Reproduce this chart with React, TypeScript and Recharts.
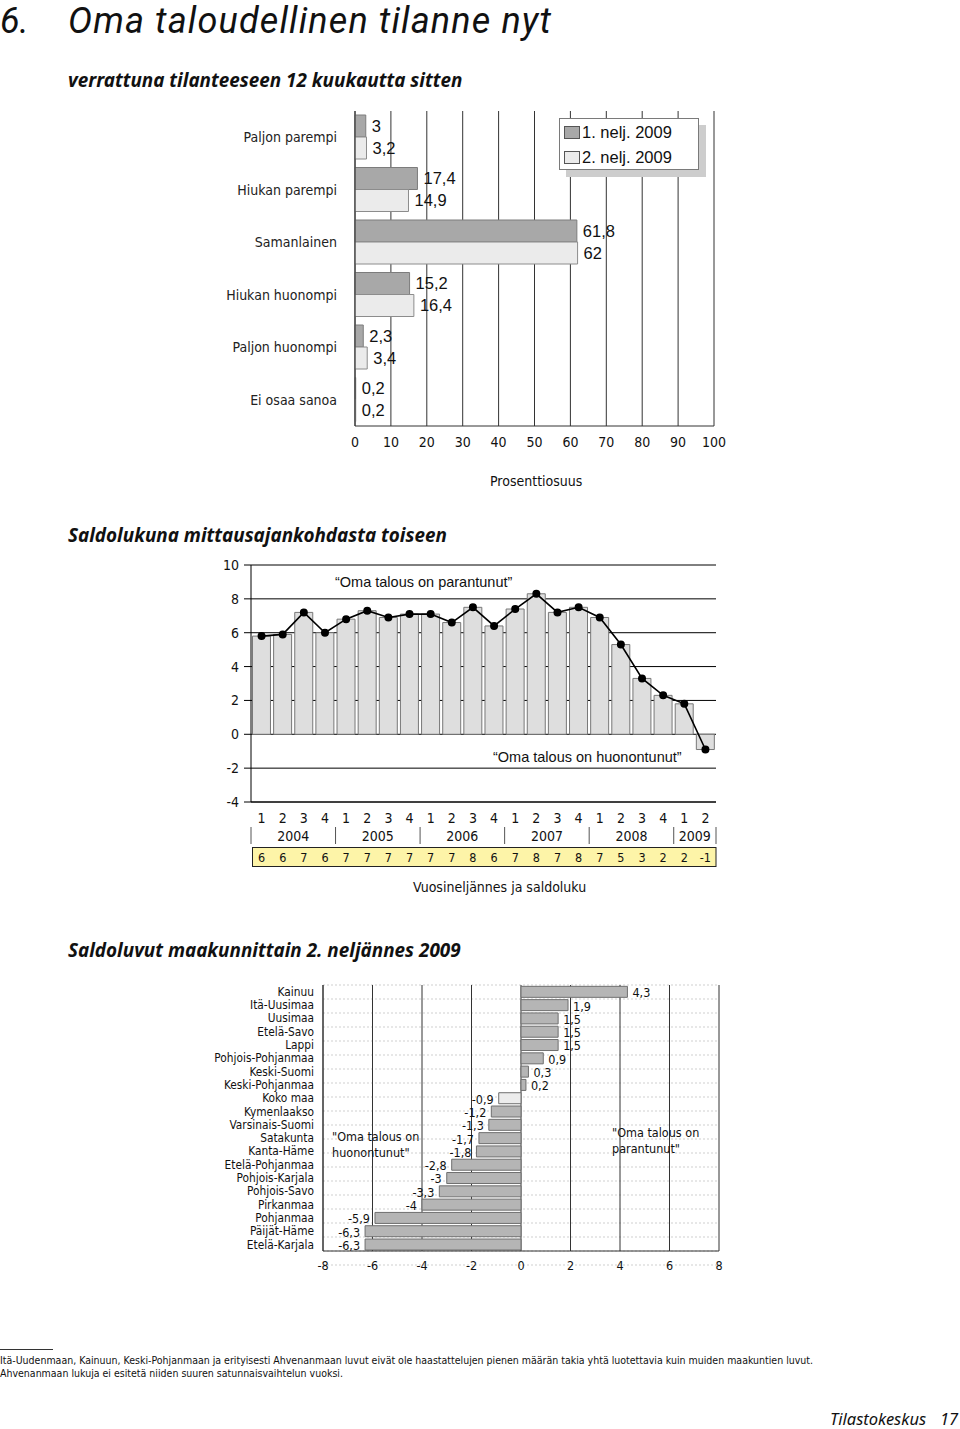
import React from 'react';
import {
  BarChart,
  Bar,
  ComposedChart,
  Line,
  XAxis,
  YAxis,
  CartesianGrid,
  LabelList,
  Legend,
  Cell,
} from 'recharts';

const COND = "'Liberation Sans Narrow', 'DejaVu Sans Condensed', 'Roboto Condensed', 'Liberation Sans', sans-serif";
const SANS = "'Liberation Sans', Arial, sans-serif";
const HEAD = "'Noto Sans', 'Open Sans', 'DejaVu Sans', sans-serif";
const TITLE = "Roboto, 'Noto Sans', sans-serif";

// ---------- Chart 1: oma taloudellinen tilanne ----------
const answerCategories = [
  'Paljon parempi',
  'Hiukan parempi',
  'Samanlainen',
  'Hiukan huonompi',
  'Paljon huonompi',
  'Ei osaa sanoa',
];
const firstQuarterValues = [3, 17.4, 61.8, 15.2, 2.3, 0.2];
const secondQuarterValues = [3.2, 14.9, 62, 16.4, 3.4, 0.2];
const seriesNames = ['1. nelj. 2009', '2. nelj. 2009'];
const percentTicks = [0, 10, 20, 30, 40, 50, 60, 70, 80, 90, 100];

// ---------- Chart 2: saldoluvut ----------
const quarterLabels = ['1', '2', '3', '4', '1', '2', '3', '4', '1', '2', '3', '4', '1', '2', '3', '4', '1', '2', '3', '4', '1', '2'];
const quarterYears = [
  '2004', '2004', '2004', '2004',
  '2005', '2005', '2005', '2005',
  '2006', '2006', '2006', '2006',
  '2007', '2007', '2007', '2007',
  '2008', '2008', '2008', '2008',
  '2009', '2009',
];
const saldoValues = [5.8, 5.9, 7.2, 6.0, 6.8, 7.3, 6.9, 7.1, 7.1, 6.6, 7.5, 6.4, 7.4, 8.3, 7.2, 7.5, 6.9, 5.3, 3.3, 2.3, 1.8, -0.9];
const saldoLabels = ['6', '6', '7', '6', '7', '7', '7', '7', '7', '7', '8', '6', '7', '8', '7', '8', '7', '5', '3', '2', '2', '-1'];
const saldoMajorTicks = [-4, -2, 0, 2, 4, 6, 8, 10];
const saldoMinorTicks = [
  -4, -3.6, -3.2, -2.8, -2.4, -2, -1.6, -1.2, -0.8, -0.4, 0, 0.4, 0.8, 1.2, 1.6, 2, 2.4, 2.8,
  3.2, 3.6, 4, 4.4, 4.8, 5.2, 5.6, 6, 6.4, 6.8, 7.2, 7.6, 8, 8.4, 8.8, 9.2, 9.6, 10,
];

// ---------- Chart 3: maakunnat ----------
const regionNames = [
  'Kainuu',
  'Itä-Uusimaa',
  'Uusimaa',
  'Etelä-Savo',
  'Lappi',
  'Pohjois-Pohjanmaa',
  'Keski-Suomi',
  'Keski-Pohjanmaa',
  'Koko maa',
  'Kymenlaakso',
  'Varsinais-Suomi',
  'Satakunta',
  'Kanta-Häme',
  'Etelä-Pohjanmaa',
  'Pohjois-Karjala',
  'Pohjois-Savo',
  'Pirkanmaa',
  'Pohjanmaa',
  'Päijät-Häme',
  'Etelä-Karjala',
];
const regionValues = [4.3, 1.9, 1.5, 1.5, 1.5, 0.9, 0.3, 0.2, -0.9, -1.2, -1.3, -1.7, -1.8, -2.8, -3, -3.3, -4, -5.9, -6.3, -6.3];
const regionTicks = [-8, -6, -4, -2, 0, 2, 4, 6, 8];
const regionRowBoundaries = [0, 1, 2, 3, 4, 5, 6, 7, 8, 9, 10, 11, 12, 13, 14, 15, 16, 17, 18, 19, 20];

// ---------- tables ----------
const answerData = answerCategories.map((name, i) => ({
  name,
  q1: firstQuarterValues[i],
  q2: secondQuarterValues[i],
}));
const saldoData = quarterLabels.map((q, i) => ({
  key: `${quarterYears[i]}-${q}`,
  v: saldoValues[i],
}));
const regionData = regionNames.map((name, i) => ({ name, v: regionValues[i] }));

const fmt = (v: any) => String(v).replace('.', ',');

// ---------- helpers ----------
const Txt = ({ x, cy, size, children, style }: any) => {
  const lh = Math.round(size * 1.15);
  return (
    <div
      style={{
        position: 'absolute',
        left: x,
        top: cy - lh / 2,
        lineHeight: `${lh}px`,
        fontSize: size,
        whiteSpace: 'nowrap',
        color: '#111',
        ...style,
      }}
    >
      {children}
    </div>
  );
};

const AnswerLegend = (props: any) => {
  const items = props.payload || [];
  return (
    <div style={{ position: 'relative', width: 140, height: 52 }}>
      <div style={{ position: 'absolute', left: 7, top: 7, width: 140, height: 52, background: '#cdcdcd' }} />
      <div
        style={{
          position: 'absolute',
          left: 0,
          top: 0,
          width: 138,
          height: 50,
          background: '#fff',
          border: '1px solid #7a7a7a',
        }}
      >
        {items.map((it: any, i: number) => (
          <div
            key={i}
            style={{
              position: 'absolute',
              left: 4,
              top: 3 + i * 25,
              height: 20,
              display: 'flex',
              alignItems: 'center',
              fontFamily: SANS,
              fontSize: 16.5,
              color: '#111',
              whiteSpace: 'nowrap',
            }}
          >
            <span
              style={{
                display: 'inline-block',
                width: 14,
                height: 11,
                background: it.color,
                border: '1px solid #555',
                marginRight: 2,
              }}
            />
            {it.value}
          </div>
        ))}
      </div>
    </div>
  );
};

const SaldoTick = (props: any) => {
  const { x, y, index, payload } = props;
  const half = payload && typeof payload.offset === 'number' && payload.offset > 0 ? payload.offset : 465 / 22 / 2;
  const n = quarterLabels.length;
  const yr = quarterYears[index];
  const first = quarterYears.indexOf(yr);
  const last = quarterYears.lastIndexOf(yr);
  return (
    <g>
      {index === 0 && (
        <rect x={x - half + 1.5} y={y + 45.5} width={n * 2 * half - 1.5} height={19} fill="#fdf4a8" stroke="#222" strokeWidth={1} />
      )}
      <text x={x} y={y + 21} textAnchor="middle" fontFamily={COND} fontSize={14} fill="#111">
        {quarterLabels[index]}
      </text>
      {index === first && (
        <line x1={x - half} x2={x - half} y1={y + 25} y2={y + 42} stroke="#555" strokeWidth={1} />
      )}
      {index === n - 1 && (
        <line x1={x + half} x2={x + half} y1={y + 25} y2={y + 42} stroke="#555" strokeWidth={1} />
      )}
      {index === first && (
        <text x={x + (last - first) * half} y={y + 39} textAnchor="middle" fontFamily={COND} fontSize={14} fill="#111">
          {yr}
        </text>
      )}
      <text x={x} y={y + 60} textAnchor="middle" fontFamily={COND} fontSize={12.5} fill="#111">
        {saldoLabels[index]}
      </text>
    </g>
  );
};

const RegionLabel = (props: any) => {
  const { x, y, width, height, value } = props;
  const left = Math.min(x, x + width);
  const right = Math.max(x, x + width);
  const neg = Number(value) < 0;
  return (
    <text
      x={neg ? left - 5 : right + 5}
      y={y + height / 2 + 1}
      dy="0.35em"
      textAnchor={neg ? 'end' : 'start'}
      fontFamily={COND}
      fontSize={12.5}
      fill="#111"
    >
      {fmt(value)}
    </text>
  );
};

export default function App() {
  return (
    <div
      style={{
        position: 'absolute',
        left: 0,
        top: 0,
        width: 960,
        height: 1429,
        background: '#fff',
        overflow: 'hidden',
        fontFamily: HEAD,
      }}
    >
      {/* Headings */}
      <div
        style={{
          position: 'absolute',
          left: 0,
          top: 0,
          width: 700,
          height: 44,
          fontFamily: TITLE,
          fontStyle: 'italic',
          fontWeight: 400,
          fontSize: 36,
          lineHeight: '36px',
          whiteSpace: 'nowrap',
          color: '#111',
        }}
      >
        <span style={{ position: 'absolute', left: 0, top: 3 }}>6.</span>
        <span style={{ position: 'absolute', left: 68, top: 3, letterSpacing: 1.15 }}>Oma taloudellinen tilanne nyt</span>
      </div>
      <Txt x={68} cy={80} size={18.9} style={{ fontStyle: 'italic', fontWeight: 700, fontFamily: HEAD }}>
        verrattuna tilanteeseen 12 kuukautta sitten
      </Txt>

      {/* Chart 1 */}
      <div style={{ position: 'absolute', left: 0, top: 100, width: 760, height: 366 }}>
        <BarChart
          width={760}
          height={366}
          data={answerData}
          layout="vertical"
          margin={{ top: 11, right: 46, bottom: 0, left: 0 }}
          barGap={0}
          barSize={22}
        >
          <CartesianGrid horizontal={false} stroke="#333" strokeWidth={1} />
          <XAxis
            type="number"
            domain={[0, 100]}
            ticks={percentTicks}
            interval={0}
            height={40}
            tickLine={false}
            tickSize={0}
            tickMargin={11}
            axisLine={{ stroke: '#333' }}
            tick={{ fontFamily: COND, fontSize: 14, fill: '#111' }}
          />
          <YAxis
            type="category"
            dataKey="name"
            width={355}
            tickLine={false}
            tickSize={0}
            tickMargin={18}
            axisLine={{ stroke: '#333' }}
            tick={{ fontFamily: COND, fontSize: 14, fill: '#222' }}
            interval={0}
          />
          <Legend
            layout="vertical"
            align="center"
            verticalAlign="middle"
            wrapperStyle={{ position: 'absolute', left: 559, top: 18, width: 150, height: 60 }}
            content={(p: any) => <AnswerLegend {...p} />}
          />
          <Bar dataKey="q1" name={seriesNames[0]} fill="#a8a8a8" stroke="#7c7c7c" strokeWidth={1} isAnimationActive={false}>
            <LabelList dataKey="q1" position="right" offset={6} formatter={fmt} fontFamily={SANS} fontSize={16.5} fill="#111" />
          </Bar>
          <Bar dataKey="q2" name={seriesNames[1]} fill="#ebebeb" stroke="#8c8c8c" strokeWidth={1} isAnimationActive={false}>
            <LabelList dataKey="q2" position="right" offset={6} formatter={fmt} fontFamily={SANS} fontSize={16.5} fill="#111" />
          </Bar>
        </BarChart>
      </div>
      <Txt x={490} cy={481} size={14} style={{ fontFamily: COND }}>
        Prosenttiosuus
      </Txt>

      {/* Heading 2 */}
      <Txt x={68} cy={535} size={18.9} style={{ fontStyle: 'italic', fontWeight: 700, fontFamily: HEAD }}>
        Saldolukuna mittausajankohdasta toiseen
      </Txt>

      {/* Chart 2 */}
      <div style={{ position: 'absolute', left: 0, top: 550, width: 760, height: 332 }}>
        <ComposedChart
          width={760}
          height={332}
          data={saldoData}
          margin={{ top: 15, right: 44, bottom: 0, left: 0 }}
          barCategoryGap="7%"
        >
          <CartesianGrid vertical={false} stroke="#000" strokeWidth={1} />
          <XAxis
            dataKey="key"
            interval={0}
            height={80}
            tickLine={false}
            tickSize={0}
            tickMargin={0}
            axisLine={{ stroke: '#000' }}
            tick={(p: any) => <SaldoTick {...p} />}
          />
          <YAxis
            domain={[-4, 10]}
            ticks={saldoMajorTicks}
            interval={0}
            width={251}
            allowDataOverflow
            tickLine={{ stroke: '#000' }}
            tickSize={7}
            tickMargin={5}
            axisLine={{ stroke: '#000' }}
            tick={{ fontFamily: COND, fontSize: 14, fill: '#111' }}
          />
          <YAxis
            yAxisId="minor"
            orientation="left"
            mirror
            domain={[-4, 10]}
            ticks={saldoMinorTicks}
            interval={0}
            allowDataOverflow
            tick={false}
            tickLine={{ stroke: '#000' }}
            tickSize={5}
            axisLine={false}
          />
          <YAxis
            yAxisId="right"
            orientation="right"
            width={0}
            domain={[-4, 10]}
            allowDataOverflow
            tick={false}
            tickLine={false}
            axisLine={{ stroke: '#000' }}
          />
          <Bar dataKey="v" fill="#dedede" stroke="#777" strokeWidth={1} isAnimationActive={false} />
          <Line
            dataKey="v"
            stroke="#000"
            strokeWidth={1.6}
            dot={{ r: 3.2, fill: '#000', stroke: '#000' }}
            activeDot={false}
            isAnimationActive={false}
          />
        </ComposedChart>
      </div>
      <Txt x={335} cy={582} size={14.5} style={{ fontFamily: SANS }}>
        “Oma talous on parantunut”
      </Txt>
      <Txt x={493} cy={757} size={14.5} style={{ fontFamily: SANS }}>
        “Oma talous on huonontunut”
      </Txt>
      <Txt x={413} cy={887} size={14} style={{ fontFamily: COND }}>
        Vuosineljännes ja saldoluku
      </Txt>

      {/* Heading 3 */}
      <Txt x={68} cy={950} size={18.9} style={{ fontStyle: 'italic', fontWeight: 700, fontFamily: HEAD }}>
        Saldoluvut maakunnittain 2. neljännes 2009
      </Txt>

      {/* Chart 3 */}
      <div style={{ position: 'absolute', left: 0, top: 975, width: 760, height: 306 }}>
        <BarChart
          width={760}
          height={306}
          data={regionData}
          layout="vertical"
          margin={{ top: 10, right: 41, bottom: 0, left: 0 }}
          barCategoryGap="10%"
        >
          <CartesianGrid yAxisId="rows" vertical={false} stroke="#cfcfcf" strokeDasharray="2 2" />
          <CartesianGrid horizontal={false} stroke="#333" strokeWidth={1} />
          <XAxis
            type="number"
            domain={[-8, 8]}
            ticks={regionTicks}
            interval={0}
            height={30}
            tickLine={false}
            tickSize={0}
            tickMargin={10}
            axisLine={{ stroke: '#333' }}
            tick={{ fontFamily: COND, fontSize: 12.5, fill: '#111' }}
          />
          <XAxis
            xAxisId="top"
            orientation="top"
            type="number"
            domain={[-8, 8]}
            height={0}
            tick={false}
            tickLine={false}
            axisLine={{ stroke: '#333' }}
          />
          <YAxis
            type="category"
            dataKey="name"
            width={323}
            interval={0}
            tickLine={false}
            tickSize={0}
            tickMargin={9}
            axisLine={{ stroke: '#333' }}
            tick={{ fontFamily: COND, fontSize: 11.8, fill: '#111' }}
          />
          <YAxis yAxisId="rows" type="number" domain={[0, 20]} ticks={regionRowBoundaries} interval={0} hide />
          <Bar dataKey="v" stroke="#6f6f6f" strokeWidth={1} isAnimationActive={false}>
            {regionData.map((d, i) => (
              <Cell key={i} fill={regionNames[i] === 'Koko maa' ? '#ececec' : '#b5b5b5'} />
            ))}
            <LabelList dataKey="v" content={(p: any) => <RegionLabel {...p} />} />
          </Bar>
        </BarChart>
      </div>
      <Txt x={332} cy={1137} size={12.5} style={{ fontFamily: COND }}>
        "Oma talous on
      </Txt>
      <Txt x={332} cy={1153} size={12.5} style={{ fontFamily: COND }}>
        huonontunut"
      </Txt>
      <Txt x={612} cy={1133} size={12.5} style={{ fontFamily: COND }}>
        "Oma talous on
      </Txt>
      <Txt x={612} cy={1149} size={12.5} style={{ fontFamily: COND }}>
        parantunut"
      </Txt>

      {/* Footer */}
      <div style={{ position: 'absolute', left: 0, top: 1349, width: 53, height: 1, background: '#333' }} />
      <Txt x={0} cy={1360} size={10.5} style={{ fontFamily: COND }}>
        Itä-Uudenmaan, Kainuun, Keski-Pohjanmaan ja erityisesti Ahvenanmaan luvut eivät ole haastattelujen pienen määrän takia yhtä luotettavia kuin muiden maakuntien luvut.
      </Txt>
      <Txt x={0} cy={1373} size={10.5} style={{ fontFamily: COND }}>
        Ahvenanmaan lukuja ei esitetä niiden suuren satunnaisvaihtelun vuoksi.
      </Txt>
      <Txt x={830} cy={1418} size={16.5} style={{ fontStyle: 'italic', fontFamily: HEAD }}>
        Tilastokeskus
      </Txt>
      <Txt x={940} cy={1418} size={16.5} style={{ fontStyle: 'italic', fontFamily: HEAD }}>
        17
      </Txt>
    </div>
  );
}
